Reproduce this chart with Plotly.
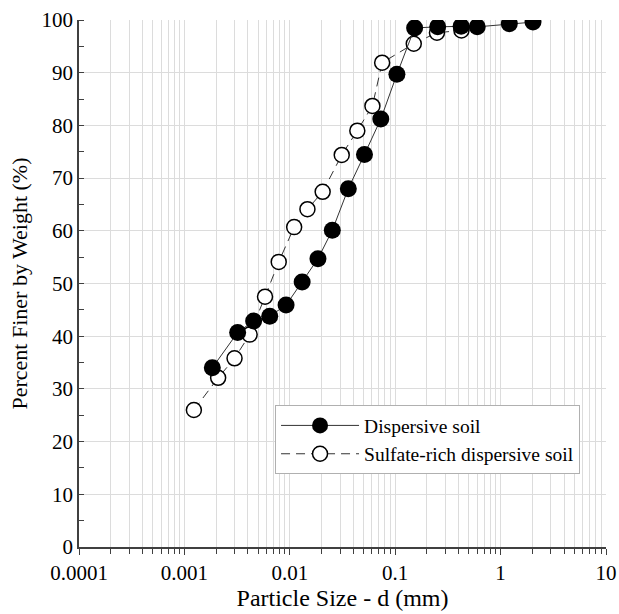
import plotly.graph_objects as go

# Dispersive soil
disp_size = [0.00184, 0.00320, 0.00454, 0.00645, 0.00922, 0.0131, 0.0185, 0.0253, 0.0359,
             0.0511, 0.0730, 0.1038, 0.1528, 0.253, 0.422, 0.600, 1.21, 2.03]
disp_pct = [34.0, 40.7, 42.9, 43.8, 45.9, 50.3, 54.7, 60.1, 68.0,
            74.5, 81.2, 89.7, 98.5, 98.7, 98.8, 98.7, 99.3, 99.6]

# Sulfate-rich dispersive soil
sulf_size = [0.00123, 0.00209, 0.00299, 0.00416, 0.00582, 0.00785, 0.0110, 0.0147, 0.0205,
             0.0311, 0.0437, 0.0608, 0.0752, 0.150, 0.249, 0.425]
sulf_pct = [26.0, 32.1, 35.8, 40.3, 47.5, 54.1, 60.7, 64.1, 67.4,
            74.4, 79.0, 83.7, 91.9, 95.5, 97.6, 98.0]

x_tickvals = [0.0001, 0.001, 0.01, 0.1, 1, 10]
x_ticktext = ["0.0001", "0.001", "0.01", "0.1", "1", "10"]
y_tickvals = [0, 10, 20, 30, 40, 50, 60, 70, 80, 90, 100]

FONT = "Liberation Serif"

fig = go.Figure()
fig.add_trace(go.Scatter(
    x=sulf_size, y=sulf_pct, mode="lines+markers",
    name="Sulfate-rich dispersive soil",
    line=dict(color="#333333", width=1, dash="9px,6px"),
    marker=dict(symbol="circle", size=15, color="white",
                line=dict(color="black", width=1.5)),
))
fig.add_trace(go.Scatter(
    x=disp_size, y=disp_pct, mode="lines+markers",
    name="Dispersive soil",
    line=dict(color="#333333", width=1),
    marker=dict(symbol="circle", size=17, color="black",
                line=dict(color="black", width=0)),
))

fig.update_layout(
    width=619, height=614,
    margin=dict(l=79, r=13, t=20, b=67),
    paper_bgcolor="white", plot_bgcolor="white",
    font=dict(family=FONT, size=21, color="black"),
    showlegend=True,
    legend=dict(
        x=0.372, y=0.269, xanchor="left", yanchor="top",
        bgcolor="white", bordercolor="#b0b0b0", borderwidth=1,
        font=dict(family=FONT, size=19.5, color="black"),
        traceorder="reversed",
        itemwidth=78,
    ),
    xaxis=dict(
        type="log", range=[-4, 1],
        tickvals=x_tickvals, ticktext=x_ticktext,
        ticks="outside", ticklen=6, tickcolor="#404040",
        showline=True, linecolor="#404040", linewidth=1.5,
        showgrid=True, gridcolor="#dcdcdc", gridwidth=1,
        minor=dict(dtick="D1", ticks="outside", ticklen=5, tickcolor="#404040",
                   showgrid=True, gridcolor="#dcdcdc", gridwidth=1),
        zeroline=False,
        title=dict(text="Particle Size - d (mm)", font=dict(family=FONT, size=24), standoff=5),
        tickfont=dict(family=FONT, size=21),
        automargin=False,
    ),
    yaxis=dict(
        range=[0, 100], tickvals=y_tickvals,
        ticks="", showline=True, linecolor="#404040", linewidth=1.5,
        showgrid=True, gridcolor="#dcdcdc", gridwidth=1,
        minor=dict(dtick=5, ticks="inside", ticklen=5, tickcolor="#404040", showgrid=False),
        zeroline=False,
        title=dict(text="Percent Finer by Weight (%)", font=dict(family=FONT, size=22), standoff=8),
        tickfont=dict(family=FONT, size=21),
        automargin=False,
    ),
)

fig.write_html("out.html",
               config={"displayModeBar": False},
               post_script="document.body.style.margin='0';document.body.style.overflow='hidden';")
